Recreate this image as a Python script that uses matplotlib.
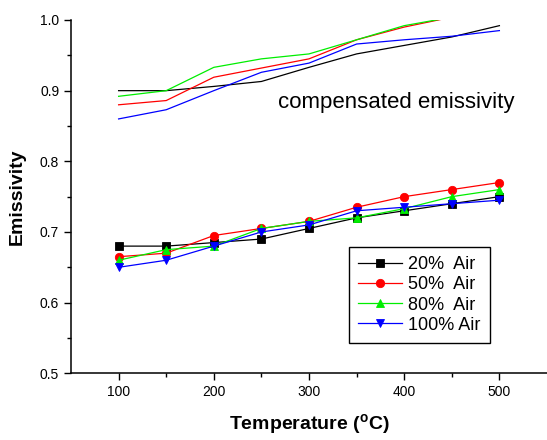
"""Emissivity vs temperature for several air fractions, measured and compensated."""

import matplotlib

matplotlib.use("Agg")

import matplotlib.pyplot as plt  # noqa: E402

plt.rcParams["font.family"] = ["Liberation Sans", "DejaVu Sans"]
plt.rcParams["mathtext.default"] = "regular"

temperature = [100, 150, 200, 250, 300, 350, 400, 450, 500]

series_labels = ["20%  Air", "50%  Air", "80%  Air", "100% Air"]
series_colors = ["#000000", "#ff0000", "#00ee00", "#0000ff"]
series_markers = ["s", "o", "^", "v"]

# measured emissivity (with markers)
measured = [
    [0.680, 0.680, 0.685, 0.690, 0.705, 0.720, 0.730, 0.740, 0.750],
    [0.665, 0.670, 0.695, 0.705, 0.715, 0.735, 0.750, 0.760, 0.770],
    [0.660, 0.675, 0.680, 0.705, 0.715, 0.720, 0.733, 0.750, 0.760],
    [0.650, 0.660, 0.680, 0.700, 0.710, 0.730, 0.735, 0.740, 0.745],
]

# compensated emissivity (plain lines)
compensated = [
    [0.900, 0.900, 0.906, 0.913, 0.933, 0.952, 0.964, 0.976, 0.992],
    [0.880, 0.886, 0.919, 0.932, 0.945, 0.972, 0.990, 1.004, 1.020],
    [0.892, 0.900, 0.933, 0.945, 0.952, 0.972, 0.992, 1.004, 1.020],
    [0.860, 0.873, 0.900, 0.926, 0.939, 0.966, 0.972, 0.977, 0.985],
]

fig = plt.figure(figsize=(5.47, 4.40), dpi=100)
ax = fig.add_axes([71 / 547, 66.7 / 440, 476 / 547, 353.3 / 440])

for values, color in zip(compensated, series_colors):
    ax.plot(temperature, values, color=color, linewidth=0.9)

for values, color, marker, label in zip(measured, series_colors, series_markers, series_labels):
    ax.plot(temperature, values, color=color, linewidth=0.9, marker=marker,
            markersize=6, markeredgewidth=0.6, markeredgecolor=color, label=label)

ax.set_xlim(50, 550)
ax.set_ylim(0.5, 1.0)
ax.set_xticks([100, 200, 300, 400, 500])
ax.set_xticks([150, 250, 350, 450], minor=True)
ax.set_yticks([0.5, 0.6, 0.7, 0.8, 0.9, 1.0])
ax.set_yticks([0.55, 0.65, 0.75, 0.85, 0.95], minor=True)
ax.tick_params(which="major", direction="out", length=5, width=1, labelsize=10)
ax.tick_params(which="minor", direction="out", length=3, width=1)
ax.spines["top"].set_visible(False)
ax.spines["right"].set_visible(False)
ax.spines["left"].set_linewidth(1.1)
ax.spines["bottom"].set_linewidth(1.1)

ax.set_xlabel("Temperature ($^{o}$C)", fontsize=14, fontweight="bold", labelpad=9)
ax.set_ylabel("Emissivity", fontsize=14, fontweight="bold", labelpad=10)

ax.text(267, 0.883, "compensated emissivity", fontsize=16, ha="left", va="center")

legend = ax.legend(loc="upper left", bbox_to_anchor=(349 / 547, 1 - 247 / 440),
                   bbox_transform=fig.transFigure, borderaxespad=0, fontsize=13,
                   fancybox=False, framealpha=1, edgecolor="black", handlelength=2.45,
                   handletextpad=0.33, labelspacing=0.18, borderpad=0.5)
legend.get_frame().set_linewidth(1.0)

fig.savefig("out.png", dpi=100)
